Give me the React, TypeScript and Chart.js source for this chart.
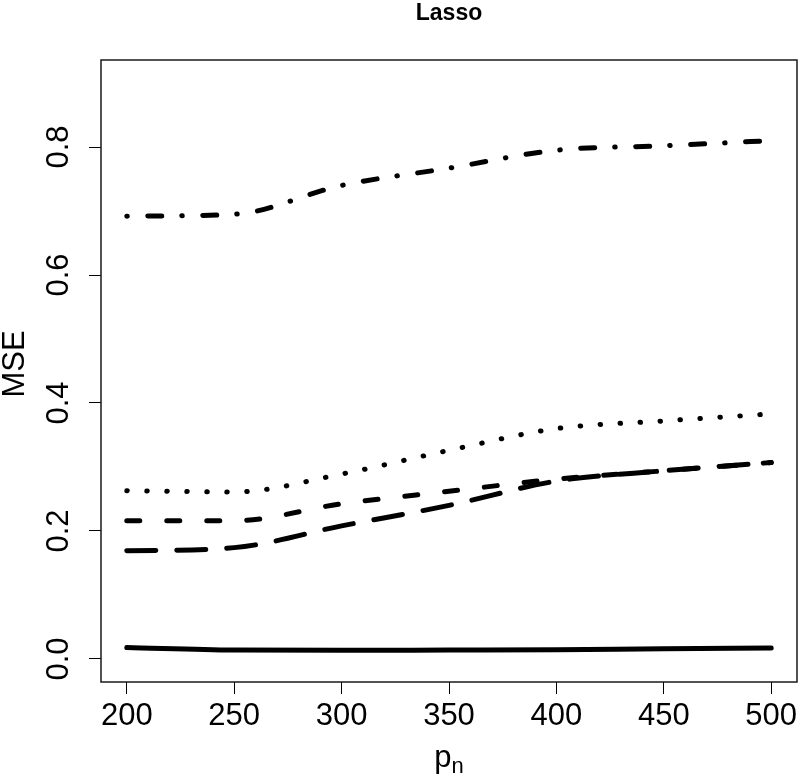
import React, { useEffect, useRef } from "react";
import { Chart, registerables } from "chart.js";

Chart.register(...registerables);

const pn = [200, 250, 300, 350, 400, 450, 500];
const xTicks = [200, 250, 300, 350, 400, 450, 500];
const yTicks = [0, 0.2, 0.4, 0.6, 0.8];
const solidMSE = [0.018, 0.014, 0.0135, 0.014, 0.0145, 0.016, 0.017];
const dottedMSE = [0.263, 0.261, 0.289, 0.326, 0.36, 0.372, 0.383];
const dashedMSE = [0.216, 0.216, 0.2425, 0.262, 0.281, 0.294, 0.307];
const longdashMSE = [0.169, 0.174, 0.208, 0.24, 0.278, 0.294, 0.307];
const dotdashMSE = [0.692, 0.695, 0.74, 0.767, 0.795, 0.802, 0.81];
const titleText = "Lasso";
const yTitle = "MSE";

const FONT = "'Liberation Sans', Arial, Helvetica, sans-serif";

export default function App() {
  const ref = useRef<HTMLCanvasElement | null>(null);
  useEffect(() => {
    const canvas = ref.current;
    if (!canvas) return;
    const mk = (vals: number[], dash: number[]) => ({
      data: pn.map((x, i) => ({ x, y: vals[i] })),
      borderColor: "#000",
      backgroundColor: "#000",
      borderWidth: 5,
      borderDash: dash,
      borderCapStyle: "round" as const,
      borderJoinStyle: "round" as const,
      pointRadius: 0,
      cubicInterpolationMode: "monotone" as const,
      fill: false,
    });
    const deco = {
      id: "deco",
      afterDraw(chart: any) {
        const { ctx, chartArea } = chart;
        const { left, right, top, bottom } = chartArea;
        ctx.save();
        ctx.strokeStyle = "#1a1a1a";
        ctx.lineWidth = 1.5;
        ctx.strokeRect(left, top, right - left, bottom - top);
        ctx.fillStyle = "#000";
        // title
        ctx.font = `bold 23px ${FONT}`;
        ctx.textAlign = "center";
        ctx.textBaseline = "alphabetic";
        ctx.fillText(titleText, (left + right) / 2, 19.5);
        // x label p_n
        const cx = (left + right) / 2;
        ctx.font = `31px ${FONT}`;
        const pw = ctx.measureText("p").width;
        ctx.font = `22px ${FONT}`;
        const nw = ctx.measureText("n").width;
        const start = cx - (pw + nw) / 2;
        ctx.textAlign = "left";
        ctx.font = `31px ${FONT}`;
        ctx.fillText("p", start, 767);
        ctx.font = `22px ${FONT}`;
        ctx.fillText("n", start + pw, 773);
        // y label
        ctx.font = `31px ${FONT}`;
        ctx.translate(24, 364);
        ctx.rotate(-Math.PI / 2);
        ctx.textAlign = "center";
        ctx.fillText(yTitle, 0, 0);
        ctx.restore();
      },
    };
    const chart = new Chart(canvas, {
      type: "line",
      data: {
        datasets: [
          mk(solidMSE, []),
          mk(dottedMSE, [0.5, 19.5]),
          mk(dashedMSE, [13, 27]),
          mk(longdashMSE, [29, 21]),
          mk(dotdashMSE, [0.5, 20.5, 14, 20]),
        ],
      },
      options: {
        animation: false,
        responsive: false,
        devicePixelRatio: 1,
        layout: { padding: { left: 0, top: 60, right: 3, bottom: 0 } },
        plugins: { legend: { display: false }, title: { display: false }, tooltip: { enabled: false } },
        scales: {
          x: {
            type: "linear",
            min: 188,
            max: 512,
            afterBuildTicks: (s: any) => {
              s.ticks = xTicks.map((v) => ({ value: v }));
            },
            afterFit: (s: any) => {
              s.height = 94;
              s.paddingLeft = 0;
              s.paddingRight = 0;
            },
            border: { display: false },
            grid: { drawOnChartArea: false, drawTicks: true, tickLength: 12, color: "#000", lineWidth: 1 },
            ticks: {
              autoSkip: false,
              maxRotation: 0,
              minRotation: 0,
              padding: 4,
              color: "#000",
              font: { family: FONT, size: 31 },
              callback: (v: any) => String(v),
            },
          },
          y: {
            type: "linear",
            min: -0.036,
            max: 0.936,
            afterBuildTicks: (s: any) => {
              s.ticks = yTicks.map((v) => ({ value: v }));
            },
            afterFit: (s: any) => {
              s.width = 101;
              s.paddingTop = 0;
              s.paddingBottom = 0;
            },
            border: { display: false },
            grid: { drawOnChartArea: false, drawTicks: true, tickLength: 12, color: "#000", lineWidth: 1 },
            ticks: {
              autoSkip: false,
              minRotation: 90,
              maxRotation: 90,
              crossAlign: "center",
              padding: 8,
              color: "#000",
              font: { family: FONT, size: 31 },
              callback: (v: any) => Number(v).toFixed(1),
            },
          },
        },
      },
      plugins: [deco],
    });
    return () => chart.destroy();
  }, []);
  return (
    <div style={{ position: "absolute", left: 0, top: 0, width: 800, height: 776, background: "#fff" }}>
      <canvas ref={ref} width={800} height={776} style={{ display: "block" }} />
    </div>
  );
}
